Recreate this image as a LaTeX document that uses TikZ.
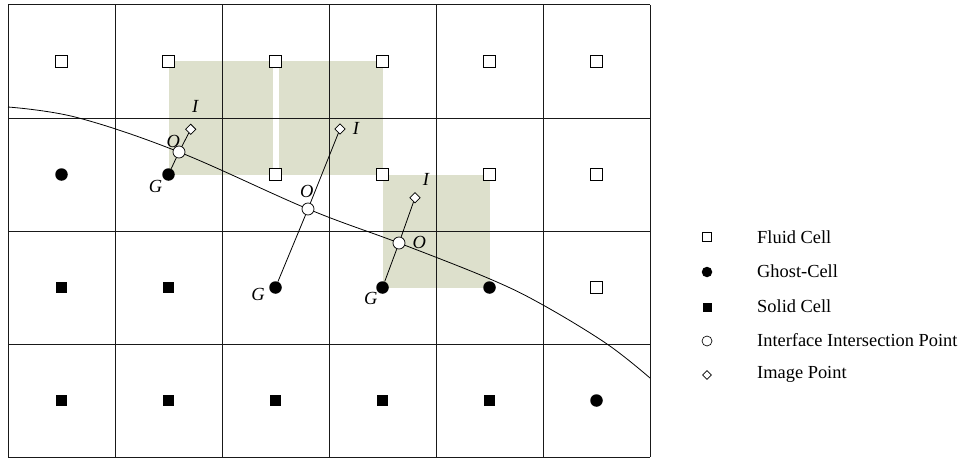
\documentclass[tikz,border=0pt]{standalone}
\usepackage{fontspec}
\setmainfont{Liberation Serif}
\usetikzlibrary{shapes.geometric}
\definecolor{shadegreen}{RGB}{221,224,204}
\tikzset{
  gridline/.style={line width=1pt, black!90},
  fluid/.style={rectangle, draw, fill=white, line width=0.75pt, minimum size=11.5pt, inner sep=0pt},
  ghost/.style={circle, fill=black, minimum size=12.5pt, inner sep=0pt},
  solidc/.style={rectangle, fill=black, minimum size=11.5pt, inner sep=0pt},
  inter/.style={circle, draw, fill=white, line width=0.75pt, minimum size=12pt, inner sep=0pt},
  imgpt/.style={diamond, draw, fill=white, line width=0.75pt, shape aspect=1, minimum width=10.5pt, minimum height=10.5pt, inner sep=0pt},
  lbl/.style={inner sep=0pt, font=\fontsize{18.5}{20}\selectfont\itshape},
  legtext/.style={anchor=west, inner sep=0pt, font=\fontsize{18.4}{22}\selectfont},
  conn/.style={line width=0.8pt},
  curveline/.style={line width=0.8pt}
}
\begin{document}
\begin{tikzpicture}[x=1pt, y=-1pt]
\useasboundingbox (0,0) rectangle (964,460);
% shaded regions
\fill[shadegreen] (168.5,61.5) rectangle (273,174.5);
\fill[shadegreen] (279,61.5) rectangle (382.5,174.5);
\fill[shadegreen] (382.5,174.5) rectangle (489.5,287.5);
% grid
\foreach \x in {8,115,222,329,436,543,650} \draw[gridline] (\x,5) -- (\x,457);
\foreach \y in {5,118,231,344,457} \draw[gridline] (8,\y) -- (650,\y);
% interface curve
\draw[curveline] plot[smooth, tension=0.6] coordinates {(8,107) (77,117.5) (179,152) (308,209) (399,243) (490,279) (543,305) (607,344) (650,378)};
% markers
\foreach \c/\x in {0/61.5,1/168.5,2/275.5,3/382.5,4/489.5,5/596.5}
  \node[fluid] (f0\c) at (\x,61.5) {};
\node[ghost] (g10) at (61.5,174.5) {};
\node[ghost] (g11) at (168.5,174.5) {};
\foreach \c/\x in {2/275.5,3/382.5,4/489.5,5/596.5}
  \node[fluid] (f1\c) at (\x,174.5) {};
\node[solidc] (s20) at (61.5,287.5) {};
\node[solidc] (s21) at (168.5,287.5) {};
\node[ghost] (g22) at (275.5,287.5) {};
\node[ghost] (g23) at (382.5,287.5) {};
\node[ghost] (g24) at (489.5,287.5) {};
\node[fluid] (f25) at (596.5,287.5) {};
\foreach \c/\x in {0/61.5,1/168.5,2/275.5,3/382.5,4/489.5}
  \node[solidc] (s3\c) at (\x,400.5) {};
\node[ghost] (g35) at (596.5,400.5) {};
% interface intersection and image points
\node[inter] (o1) at (179,152) {};
\node[imgpt] (i1) at (190.7,129.3) {};
\node[inter] (o2) at (308,209) {};
\node[imgpt] (i2) at (340,129) {};
\node[inter] (o3) at (399,243) {};
\node[imgpt] (i3) at (415,197.7) {};
\draw[conn] (g11) -- (o1) -- (i1);
\draw[conn] (g22) -- (o2) -- (i2);
\draw[conn] (g23) -- (o3) -- (i3);
% labels
\node[lbl] (li1) at (195.3,106) {I};
\node[lbl] (lo1) at (173.3,141) {O};
\node[lbl] (lg1) at (155.5,186.5) {G};
\node[lbl] (li2) at (356,128.5) {I};
\node[lbl] (lo2) at (306.7,191) {O};
\node[lbl] (lg2) at (258,294) {G};
\node[lbl] (li3) at (426,179.5) {I};
\node[lbl] (lo3) at (419.3,242) {O};
\node[lbl] (lg3) at (370.7,298) {G};
% legend
\node[fluid, minimum size=9pt, line width=0.65pt] (k1) at (707,237) {};
\node[ghost, minimum size=10.5pt] (k2) at (707,272) {};
\node[solidc, minimum size=9pt] (k3) at (707,307) {};
\node[inter, minimum size=10pt, line width=0.65pt] (k4) at (707,341) {};
\node[imgpt, minimum width=9pt, minimum height=9pt, line width=0.65pt] (k5) at (707,375) {};
\node[legtext] (t1) at (757,237) {Fluid Cell};
\node[legtext] (t2) at (757,271.5) {Ghost-Cell};
\node[legtext] (t3) at (757,306.5) {Solid Cell};
\node[legtext] (t4) at (757,340.5) {Interface Intersection Point};
\node[legtext] (t5) at (757,374.5) {Image Point};
\end{tikzpicture}
\end{document}
